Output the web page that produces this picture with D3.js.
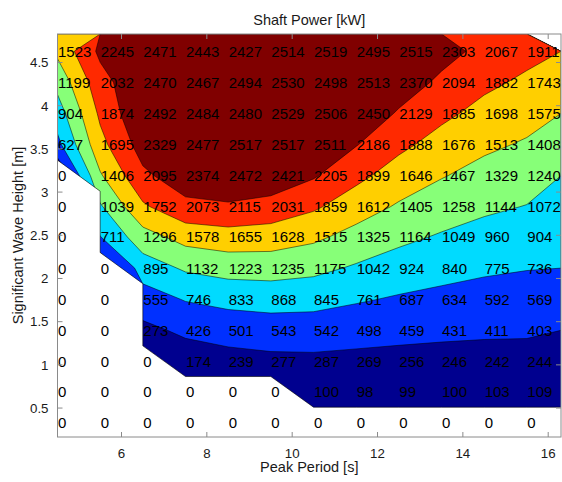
<!DOCTYPE html>
<html>
<head>
<meta charset="utf-8">
<script src="https://cdn.jsdelivr.net/npm/d3@7"></script>
<style>
  body { margin: 0; background: #fff; }
  svg { display: block; font-family: "Liberation Sans", Arial, sans-serif; }
</style>
</head>
<body>
<div id="chart"></div>
<script>
// columns: peak period [s] where each number is written, rows: wave height [m] (top to bottom)
const peakPeriod = [4.5, 5.5, 6.5, 7.5, 8.5, 9.5, 10.5, 11.5, 12.5, 13.5, 14.5, 15.5];
const waveHeight = [4.63, 4.27, 3.91, 3.55, 3.19, 2.83, 2.48, 2.12, 1.76, 1.40, 1.04, 0.69, 0.33];

// shaft power [kW], one array per wave height row
const row1  = [1523, 2245, 2471, 2443, 2427, 2514, 2519, 2495, 2515, 2303, 2067, 1911];
const row2  = [1199, 2032, 2470, 2467, 2494, 2530, 2498, 2513, 2370, 2094, 1882, 1743];
const row3  = [904, 1874, 2492, 2484, 2480, 2529, 2506, 2450, 2129, 1885, 1698, 1575];
const row4  = [627, 1695, 2329, 2477, 2517, 2517, 2511, 2186, 1888, 1676, 1513, 1408];
const row5  = [0, 1406, 2095, 2374, 2472, 2421, 2205, 1899, 1646, 1467, 1329, 1240];
const row6  = [0, 1039, 1752, 2073, 2115, 2031, 1859, 1612, 1405, 1258, 1144, 1072];
const row7  = [0, 711, 1296, 1578, 1655, 1628, 1515, 1325, 1164, 1049, 960, 904];
const row8  = [0, 0, 895, 1132, 1223, 1235, 1175, 1042, 924, 840, 775, 736];
const row9  = [0, 0, 555, 746, 833, 868, 845, 761, 687, 634, 592, 569];
const row10 = [0, 0, 273, 426, 501, 543, 542, 498, 459, 431, 411, 403];
const row11 = [0, 0, 0, 174, 239, 277, 287, 269, 256, 246, 242, 244];
const row12 = [0, 0, 0, 0, 0, 0, 100, 98, 99, 100, 103, 109];
const row13 = [0, 0, 0, 0, 0, 0, 0, 0, 0, 0, 0, 0];

// contour levels and fill colours (jet)
const levels = [361, 723, 1084, 1446, 1807, 2169];
const bandColors = ["#00008f", "#0030ff", "#00dbff", "#87ff78", "#ffcf00", "#ff2900", "#800000"];

const xTicks = [6, 8, 10, 12, 14, 16];
const yTicks = [0.5, 1, 1.5, 2, 2.5, 3, 3.5, 4, 4.5];

const power = [row1, row2, row3, row4, row5, row6, row7, row8, row9, row10, row11, row12, row13];

const W = 562, H = 482;
const plot = { left: 57.5, top: 34, right: 561, bottom: 437 };

const x = d3.scaleLinear().domain([4.5, 16.3]).range([plot.left, plot.right]);
const y = d3.scaleLinear().domain([0.165, 4.83]).range([plot.bottom, plot.top]);

const nx = peakPeriod.length, ny = waveHeight.length;

// d3.contours puts sample i at grid coordinate i + 0.5; stretch the outer half cells to the frame
const gx = d3.scaleLinear()
  .domain([0, ...d3.range(nx).map(i => i + 0.5), nx])
  .range([x(peakPeriod[0]) - 20, ...peakPeriod.map(v => x(v)), plot.right]);
const gy = d3.scaleLinear()
  .domain([0, ...d3.range(ny).map(j => j + 0.5), ny])
  .range([plot.top, ...waveHeight.map(v => y(v)), plot.bottom]);

const svg = d3.select("#chart").append("svg")
  .attr("width", W).attr("height", H);

svg.append("defs").append("clipPath").attr("id", "plotClip")
  .append("rect")
  .attr("x", plot.left).attr("y", plot.top)
  .attr("width", plot.right - plot.left).attr("height", plot.bottom - plot.top);

const g = svg.append("g").attr("clip-path", "url(#plotClip)");

const values = power.flat();
const bands = d3.contours().size([nx, ny]).thresholds([-1, ...levels])(values);

const proj = d3.geoTransform({
  point(px, py) { this.stream.point(gx(px), gy(py)); }
});
const path = d3.geoPath(proj);

g.selectAll("path.band")
  .data(bands)
  .join("path")
  .attr("class", "band")
  .attr("d", path)
  .attr("fill", (d, i) => bandColors[i])
  .attr("stroke", (d, i) => i === 0 ? "none" : "#000")
  .attr("stroke-width", 0.6)
  .attr("stroke-opacity", 0.85);

// cells without a value (0) are left blank
const lastValid = peakPeriod.map((_, c) => d3.max(power, (row, j) => row[c] > 0 ? j : -1));
const rowY = d3.scaleLinear().domain(d3.range(ny)).range(waveHeight);
const edge = [[x(peakPeriod[0]), y(rowY(lastValid[0] + 0.5))]];
for (let c = 0; c < nx - 1; c++) {
  const b0 = lastValid[c] + 0.5, b1 = lastValid[c + 1] + 0.5;
  if (b1 > b0) {
    edge.push([x(peakPeriod[c + 1]), y(rowY(b0 + 1))]);
    edge.push([x(peakPeriod[c + 1]), y(rowY(b1))]);
  } else if (b1 < b0) {
    edge.push([x(peakPeriod[c]), y(rowY(b1 + 1))]);
    edge.push([x(peakPeriod[c + 1]), y(rowY(b1))]);
  } else {
    edge.push([x(peakPeriod[c + 1]), y(rowY(b1))]);
  }
}
edge.push([plot.right, y(rowY(lastValid[nx - 1] + 0.5))]);

const blank = edge.concat([[plot.right, plot.bottom + 2], [plot.left - 2, plot.bottom + 2]]);
g.append("path")
  .attr("d", d3.line()(blank) + "Z")
  .attr("fill", "#fff");
g.append("path")
  .attr("d", d3.line()(edge))
  .attr("fill", "none")
  .attr("stroke", "#000")
  .attr("stroke-width", 0.6);

// numbers written on the grid
const labels = svg.append("g")
  .attr("font-size", 15)
  .attr("fill", "#000");
power.forEach((row, j) => {
  labels.selectAll(null)
    .data(row)
    .join("text")
    .attr("x", (d, c) => x(peakPeriod[c]) + 0.5)
    .attr("y", y(waveHeight[j]) + 5.4)
    .text(d => d);
});

// frame and ticks (inside, like the source)
const axisColor = "#8a8a8a";
svg.append("rect")
  .attr("x", plot.left).attr("y", plot.top)
  .attr("width", plot.right - plot.left).attr("height", plot.bottom - plot.top)
  .attr("fill", "none").attr("stroke", axisColor).attr("stroke-width", 1);

const tickLen = 5;
const ticks = svg.append("g").attr("stroke", axisColor).attr("stroke-width", 1);
xTicks.forEach(t => {
  ticks.append("line").attr("x1", x(t)).attr("x2", x(t)).attr("y1", plot.bottom).attr("y2", plot.bottom - tickLen);
  ticks.append("line").attr("x1", x(t)).attr("x2", x(t)).attr("y1", plot.top).attr("y2", plot.top + tickLen);
});
yTicks.forEach(t => {
  ticks.append("line").attr("x1", plot.left).attr("x2", plot.left + tickLen).attr("y1", y(t)).attr("y2", y(t));
  ticks.append("line").attr("x1", plot.right).attr("x2", plot.right - tickLen).attr("y1", y(t)).attr("y2", y(t));
});

svg.append("g")
  .attr("font-size", 13.3).attr("fill", "#1a1a1a").attr("text-anchor", "middle")
  .selectAll("text").data(xTicks).join("text")
  .attr("x", d => x(d)).attr("y", plot.bottom + 20.5)
  .text(d => d);

svg.append("g")
  .attr("font-size", 13.3).attr("fill", "#1a1a1a").attr("text-anchor", "end")
  .selectAll("text").data(yTicks).join("text")
  .attr("x", plot.left - 9).attr("y", d => y(d) + 4.8)
  .text(d => d);

svg.append("text")
  .attr("x", (plot.left + plot.right) / 2).attr("y", 25)
  .attr("text-anchor", "middle").attr("font-size", 14.5).attr("fill", "#1a1a1a")
  .text("Shaft Power [kW]");

svg.append("text")
  .attr("x", (plot.left + plot.right) / 2).attr("y", 472)
  .attr("text-anchor", "middle").attr("font-size", 14.5).attr("fill", "#1a1a1a")
  .text("Peak Period [s]");

svg.append("text")
  .attr("transform", `translate(22.5,${(plot.top + plot.bottom) / 2}) rotate(-90)`)
  .attr("text-anchor", "middle").attr("font-size", 14.5).attr("fill", "#1a1a1a")
  .text("Significant Wave Height [m]");
</script>
</body>
</html>
